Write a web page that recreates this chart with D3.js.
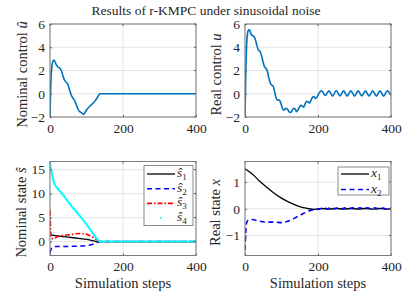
<!DOCTYPE html>
<html>
<head>
<meta charset="utf-8">
<script src="https://cdn.jsdelivr.net/npm/d3@7"></script>
<style>
  body { margin: 0; background: #fff; }
</style>
</head>
<body>
<script>
// tick labels
var stepTicks = [0, 200, 400];
var uTicks = [-2, 0, 2, 4, 6];
var sTicks = [0, 5, 10, 15];
var xTicks = [-1, 0, 1];

// nominal control u-hat, [step, value]
var uNom = [[0,-2],[2,0.6],[5,2.3],[8,2.8],[10,2.9],[13,2.8],[17,2.5],[22,2.3],[27,2.2],[31,2.0],
  [35,1.6],[39,1.2],[44,1.0],[49,0.8],[53,0.4],[57,0.0],[61,-0.3],[66,-0.5],[71,-0.85],[75,-1.2],
  [80,-1.5],[85,-1.6],[89,-1.7],[92,-1.77],[96,-1.6],[100,-1.4],[105,-1.2],[110,-1.05],[115,-0.9],
  [120,-0.75],[125,-0.55],[130,-0.3],[134,-0.1],[137,0],[400,0]];

// real control u
var uReal = [[0,-2],[2,1.5],[4,3.8],[7,5.2],[10,5.5],[13,5.45],[17,5.1],[21,5.0],[25,4.9],[29,4.6],
  [33,4.1],[37,3.75],[41,3.65],[45,3.3],[49,2.8],[53,2.35],[57,2.2],[61,1.95],[65,1.4],[69,0.95],
  [73,0.75],[77,0.65],[81,0.2],[85,-0.35],[89,-0.55],[93,-0.55],[97,-0.7],[101,-1.1],[105,-1.4],
  [109,-1.35],[113,-1.25],[117,-1.35],[121,-1.55],[125,-1.6],[129,-1.45],[133,-1.25],[137,-1.3],
  [141,-1.55],[145,-1.4],[149,-1.15],[153,-1.0],[157,-1.05],[161,-1.15],[165,-0.85],[169,-0.65],
  [173,-0.7],[177,-0.8],[181,-0.55],[185,-0.3],[189,-0.25],[193,-0.4],[197,-0.3],[201,-0.05],
  [205,0.15],[210,0.25],[220,-0.15],[230,0.25],[240,-0.2],[250,0.28],[260,-0.18],[270,0.25],
  [280,-0.2],[290,0.25],[300,-0.2],[310,0.25],[320,-0.18],[330,0.25],[340,-0.2],[350,0.25],
  [360,-0.2],[370,0.25],[380,-0.2],[390,0.25],[400,-0.15]];

// nominal states s-hat 1..4
var sHat1 = [[0,1.4],[30,1.1],[70,0.75],[100,0.45],[135,0],[400,0]];
var sHat2 = [[0,-2.3],[3,-1.6],[8,-1.1],[15,-1.0],[40,-1.0],[80,-0.95],[100,-0.85],[115,-0.6],
  [125,-0.35],[132,-0.1],[137,0],[400,0]];
var sHat3 = [[0,6.5],[1,4],[3,0.8],[8,0.6],[20,1.0],[40,1.3],[60,1.5],[80,1.7],[90,1.65],[105,1.4],
  [120,0.8],[130,0.3],[137,0],[400,0]];
var sHat4 = [[0,16.2],[3,15],[6,14],[9,12.8],[12,12],[18,11.3],[25,10.7],[35,9.8],[41,9.2],[59,7.4],
  [78,5.7],[96,4.0],[114,2.1],[132,0.3],[137,0],[400,0]];

// real states x1, x2
var xReal1 = [[0,1.5],[20,1.3],[41,1.02],[60,0.8],[78,0.6],[100,0.4],[120,0.25],[142,0.12],
  [160,0.04],[175,0.0],[190,-0.02],[210,0.01],[230,-0.01],[250,0.01],[270,-0.01],[290,0.01],
  [310,-0.01],[330,0.01],[350,-0.01],[370,0.01],[390,-0.01],[400,0]];
var xReal2 = [[0,-1.55],[2,-0.9],[5,-0.5],[10,-0.42],[20,-0.4],[35,-0.45],[60,-0.5],[80,-0.5],
  [100,-0.52],[115,-0.48],[130,-0.4],[145,-0.28],[160,-0.18],[175,-0.08],[190,-0.04],[205,-0.01],
  [215,0.03],[225,0.0],[235,0.05],[245,0.0],[255,0.04],[265,0.0],[275,0.04],[285,0.0],[295,0.04],
  [305,0.0],[315,0.04],[325,0.0],[335,0.04],[345,0.0],[355,0.04],[365,0.0],[375,0.04],[385,0.0],[400,0.03]];

var W = 415, H = 297;
var FS = 13.5;
var svg = d3.select("body").append("svg")
  .attr("width", W)
  .attr("height", H)
  .attr("font-family", "Liberation Serif")
  .attr("fill", "#262626");

svg.append("text")
  .attr("x", 206)
  .attr("y", 15)
  .attr("text-anchor", "middle")
  .attr("font-size", FS)
  .text("Results of r-KMPC under sinusoidal noise");

var panelId = 0;

function panel(p) {
  panelId++;
  var x = d3.scaleLinear().domain([0, 400]).range([p.left, p.left + 146]);
  var y = d3.scaleLinear().domain(p.ydom).range([p.bottom, p.top]);
  var g = svg.append("g");

  // grid
  g.selectAll(".gx").data(stepTicks).join("line")
    .attr("x1", d => x(d)).attr("x2", d => x(d))
    .attr("y1", p.top).attr("y2", p.bottom)
    .attr("stroke", "#e3e3e3").attr("stroke-width", 1);
  g.selectAll(".gy").data(p.yticks).join("line")
    .attr("class", "gy")
    .attr("x1", x(0)).attr("x2", x(400))
    .attr("y1", d => y(d)).attr("y2", d => y(d))
    .attr("stroke", "#e3e3e3").attr("stroke-width", 1);

  svg.append("clipPath").attr("id", "clip" + panelId)
    .append("rect")
    .attr("x", x(0)).attr("y", p.top)
    .attr("width", x(400) - x(0)).attr("height", p.bottom - p.top);

  var line = d3.line()
    .x(d => x(d[0]))
    .y(d => y(d[1]))
    .curve(d3.curveMonotoneX);

  var lg = g.append("g").attr("clip-path", "url(#clip" + panelId + ")");
  p.series.forEach(function (s) {
    lg.append("path")
      .datum(s.data)
      .attr("d", line)
      .attr("fill", "none")
      .attr("stroke", s.color)
      .attr("stroke-width", s.width)
      .attr("stroke-dasharray", s.dash);
  });

  // axes
  var ax = g.append("g")
    .attr("transform", "translate(0," + p.bottom + ")")
    .call(d3.axisBottom(x).tickValues(stepTicks).tickSize(-2).tickPadding(6));
  var ay = g.append("g")
    .attr("transform", "translate(" + x(0) + ",0)")
    .call(d3.axisLeft(y).tickValues(p.yticks).tickSize(-2).tickPadding(5).tickFormat(d3.format("d")));
  [ax, ay].forEach(function (a) {
    a.attr("font-family", "Liberation Serif").attr("font-size", FS);
    a.select(".domain").remove();
    a.selectAll(".tick line").attr("stroke", "#555");
    a.selectAll("text").attr("fill", "#262626");
  });
  g.selectAll(".tr").data(p.yticks).join("line")
    .attr("x1", x(400)).attr("x2", x(400) - 2)
    .attr("y1", d => y(d)).attr("y2", d => y(d))
    .attr("stroke", "#555");
  g.selectAll(".tt").data(stepTicks).join("line")
    .attr("x1", d => x(d)).attr("x2", d => x(d))
    .attr("y1", p.top).attr("y2", p.top + 2)
    .attr("stroke", "#555");

  g.append("rect")
    .attr("x", x(0)).attr("y", p.top)
    .attr("width", x(400) - x(0)).attr("height", p.bottom - p.top)
    .attr("fill", "none")
    .attr("stroke", "#7a7a7a")
    .attr("stroke-width", 1);

  // y label
  var yl = svg.append("text")
    .attr("transform", "translate(" + p.ylx + "," + ((p.top + p.bottom) / 2 + 4) + ") rotate(-90)")
    .attr("text-anchor", "middle")
    .attr("font-size", 14.5);
  yl.append("tspan").text(p.ylabel + " ");
  yl.append("tspan").attr("font-style", "italic").text(p.ysym);

  if (p.xlabel) {
    svg.append("text")
      .attr("x", (x(0) + x(400)) / 2)
      .attr("y", p.bottom + 32)
      .attr("text-anchor", "middle")
      .attr("font-size", 14.5)
      .text("Simulation steps");
  }

  // legend
  if (p.legend) {
    var L = p.legend;
    var lgd = svg.append("g");
    lgd.append("rect")
      .attr("x", L.x).attr("y", L.y)
      .attr("width", L.w).attr("height", L.h)
      .attr("fill", "#fff")
      .attr("stroke", "#8a8a8a")
      .attr("stroke-width", 1);
    p.series.forEach(function (s, i) {
      var ry = L.y + L.first + i * L.step;
      if (s.dotLegend) {
        lgd.append("circle")
          .attr("cx", L.x + 17).attr("cy", ry)
          .attr("r", 1)
          .attr("fill", s.color);
      } else {
        lgd.append("line")
          .attr("x1", L.x + 3).attr("x2", L.x + 31)
          .attr("y1", ry).attr("y2", ry)
          .attr("stroke", s.color)
          .attr("stroke-width", s.width)
          .attr("stroke-dasharray", s.dash);
      }
      var t = lgd.append("text")
        .attr("x", L.x + 33)
        .attr("y", ry + 3)
        .attr("font-size", 13.5);
      t.append("tspan").attr("font-style", "italic").text(s.sym);
      t.append("tspan").attr("font-size", 9).attr("dy", 3).text(s.sub);
    });
  }
}

panel({
  left: 50, top: 24, bottom: 117, ydom: [-2, 6], yticks: uTicks,
  ylabel: "Nominal control", ysym: "\u00fb", ylx: 27,
  series: [{ data: uNom, color: "#0072BD", width: 1.6 }]
});

panel({
  left: 245, top: 24, bottom: 117, ydom: [-2, 6], yticks: uTicks,
  ylabel: "Real control", ysym: "u", ylx: 221,
  series: [{ data: uReal, color: "#0072BD", width: 1.6 }]
});

panel({
  left: 50, top: 161.5, bottom: 255.5, ydom: [-2.9, 16.7], yticks: sTicks,
  ylabel: "Nominal state", ysym: "\u015d", ylx: 26, xlabel: true,
  series: [
    { data: sHat1, color: "#000", width: 1.3, sym: "\u015d", sub: "1" },
    { data: sHat2, color: "#0000ff", width: 1.5, dash: "5,3.5", sym: "\u015d", sub: "2" },
    { data: sHat3, color: "#ff0000", width: 1.6, dash: "5,2,1.5,2", sym: "\u015d", sub: "3" },
    { data: sHat4, color: "#00ffff", width: 2, sym: "\u015d", sub: "4", dotLegend: true }
  ],
  legend: { x: 144, y: 165.5, w: 49, h: 60, first: 8.5, step: 14.7 }
});

panel({
  left: 245, top: 161.5, bottom: 255.5, ydom: [-1.75, 1.77], yticks: xTicks,
  ylabel: "Real state", ysym: "x", ylx: 220, xlabel: true,
  series: [
    { data: xReal1, color: "#000", width: 1.3, sym: "x", sub: "1" },
    { data: xReal2, color: "#0000ff", width: 1.6, dash: "5,3.5", sym: "x", sub: "2" }
  ],
  legend: { x: 338, y: 167, w: 51, h: 28, first: 7, step: 15.5 }
});
</script>
</body>
</html>
